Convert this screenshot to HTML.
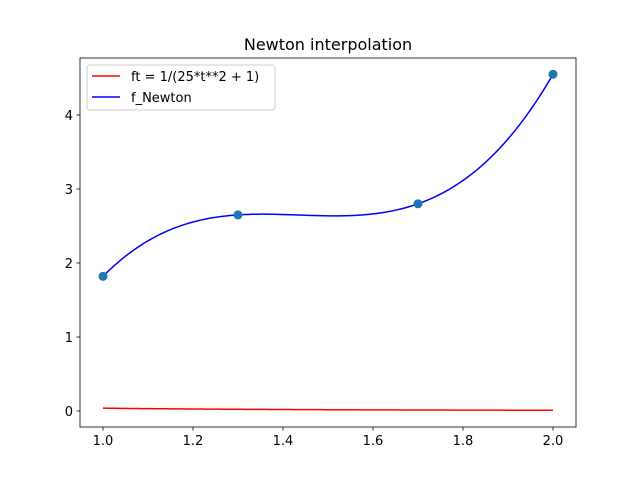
<!DOCTYPE html>
<html><head><meta charset="utf-8"><style>
body{margin:0;background:#fff}
svg{display:block;font-family:"DejaVu Sans","Liberation Sans",sans-serif}
</style></head><body>
<svg id="chart" width="640" height="480">
<rect width="640" height="480" fill="#fff"/>
<text x="328" y="50" font-size="16" text-anchor="middle">Newton interpolation</text>
<g id="plot"></g>
<rect x="80" y="58" width="496" height="369" fill="none" stroke="#000" stroke-width="0.8"/>
<g id="ticks"></g>
<g>
<rect x="87" y="65" width="188" height="45" rx="3" fill="#fff" fill-opacity="0.8" stroke="#ccc"/>
<line x1="92" y1="76" x2="120" y2="76" stroke="red" stroke-width="1.5"/>
<text x="131" y="81" font-size="13">ft = 1/(25*t**2 + 1)</text>
<line x1="92" y1="97" x2="120" y2="97" stroke="blue" stroke-width="1.5"/>
<text x="131" y="102" font-size="13">f_Newton</text>
</g>
</svg>
<script>
const xNodes=[1.0,1.3,1.7,2.0];
const yNodes=[1.82,2.65,2.80,4.55];
const xTicks=[1.0,1.2,1.4,1.6,1.8,2.0];
const xTickLabels=["1.0","1.2","1.4","1.6","1.8","2.0"];
const yTicks=[0,1,2,3,4];
const yTickLabels=["0","1","2","3","4"];
const NS="http://www.w3.org/2000/svg";
const sx=v=>103+(v-1)*450;
const sy=v=>411-v*74;
function mk(t,a,p){const e=document.createElementNS(NS,t);for(const k in a)e.setAttribute(k,a[k]);p.appendChild(e);return e;}
const n=xNodes.length;const c=yNodes.slice();
for(let j=1;j<n;j++)for(let i=n-1;i>=j;i--)c[i]=(c[i]-c[i-1])/(xNodes[i]-xNodes[i-j]);
function newton(t){let r=c[n-1];for(let i=n-2;i>=0;i--)r=r*(t-xNodes[i])+c[i];return r;}
const plot=document.getElementById('plot');
let pr=[],pb=[];
const x0=xNodes[0],x1=xNodes[n-1];
for(let k=0;k<=200;k++){const t=x0+(x1-x0)*k/200;
pr.push(sx(t).toFixed(2)+","+sy(1/(25*t*t+1)).toFixed(2));
pb.push(sx(t).toFixed(2)+","+sy(newton(t)).toFixed(2));}
let l=mk('polyline',{points:pr.join(" "),fill:"none",stroke:"red","stroke-width":1.5},plot);


l=mk('polyline',{points:pb.join(" "),fill:"none",stroke:"blue","stroke-width":1.5},plot);


xNodes.forEach((x,i)=>{const d=mk('circle',{cx:sx(x),cy:sy(yNodes[i]),r:4.5,fill:"#1f77b4"},plot);

});
const tk=document.getElementById('ticks');
xTicks.forEach((v,i)=>{mk('line',{x1:sx(v),x2:sx(v),y1:427,y2:430.5,stroke:"#000","stroke-width":0.8},tk);
const t=mk('text',{x:sx(v),y:445,"font-size":13,"text-anchor":"middle"},tk);t.textContent=xTickLabels[i];

});
yTicks.forEach((v,i)=>{mk('line',{x1:76.5,x2:80,y1:sy(v),y2:sy(v),stroke:"#000","stroke-width":0.8},tk);
const t=mk('text',{x:73,y:sy(v)+5,"font-size":13,"text-anchor":"end"},tk);t.textContent=yTickLabels[i];

});
</script>
</body></html>
